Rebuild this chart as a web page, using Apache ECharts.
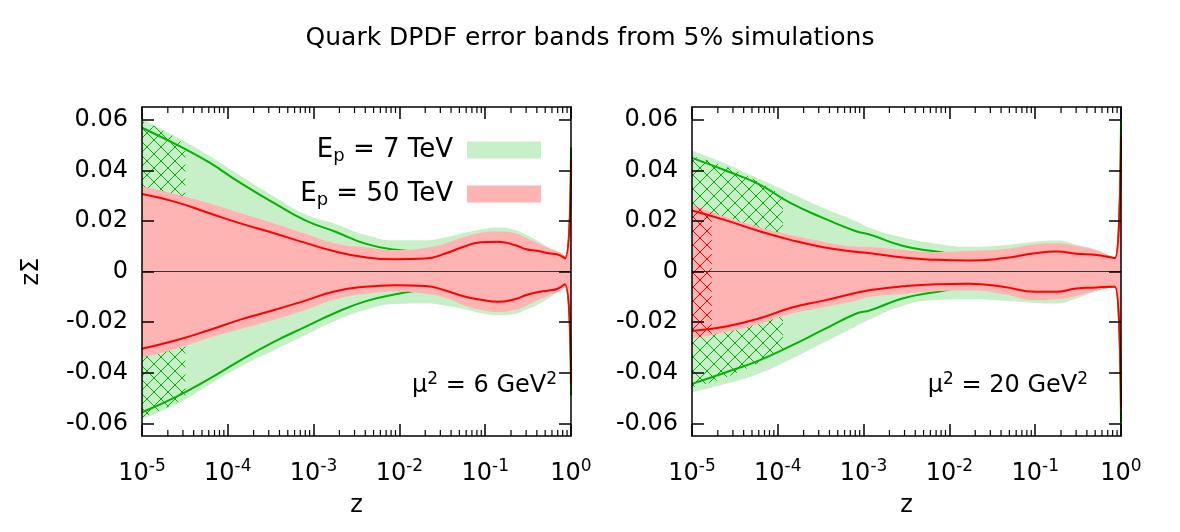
<!DOCTYPE html>
<html>
<head>
<meta charset="utf-8">
<script src="https://cdn.jsdelivr.net/npm/echarts@6/dist/echarts.min.js"></script>
<style>
html,body{margin:0;padding:0;background:#fff}
#chart{width:1180px;height:532px}
</style>
</head>
<body>
<div id="chart"></div>
<script>
// ---- panel 1: mu^2 = 6 GeV^2 ----
const zA = [1e-5, 2.5e-5, 6e-5, 1.4e-4, 3.4e-4, 8e-4, 1.8e-3, 4e-3, 9e-3, 2e-2, 3.5e-2, 5.6e-2, 9e-2, 0.14, 0.22, 0.3, 0.4, 0.55, 0.7, 0.85, 1.0];
const aGreenBandHi = [0.0604, 0.0532, 0.0458, 0.0378, 0.0298, 0.0226, 0.0188, 0.0145, 0.0123, 0.0123, 0.0135, 0.0152, 0.0166, 0.0174, 0.0165, 0.0145, 0.0122, 0.0095, 0.0079, 0.0062, 0.052];
const aGreenBandLo = [-0.0583, -0.0525, -0.0448, -0.0376, -0.0312, -0.0252, -0.0195, -0.0152, -0.0128, -0.0126, -0.0135, -0.0148, -0.0165, -0.0173, -0.0168, -0.015, -0.0133, -0.0105, -0.0082, -0.0062, -0.052];
const aGreenLineHi = [0.0568, 0.0502, 0.0432, 0.035, 0.0272, 0.0202, 0.0157, 0.011, 0.0086, 0.0078, 0.0092, 0.0117, 0.0135, 0.0138, 0.013, 0.011, 0.0098, 0.0082, 0.0073, 0.0055, 0.049];
const aGreenLineLo = [-0.0556, -0.0495, -0.0425, -0.0351, -0.0279, -0.0219, -0.0163, -0.0118, -0.009, -0.0075, -0.009, -0.0115, -0.0132, -0.014, -0.013, -0.0114, -0.0099, -0.0085, -0.0074, -0.0055, -0.049];
const aRedBandHi = [0.0337, 0.0305, 0.027, 0.0231, 0.0191, 0.015, 0.0111, 0.0096, 0.0085, 0.0093, 0.0112, 0.0136, 0.0153, 0.0158, 0.0152, 0.0132, 0.0114, 0.0092, 0.0079, 0.0058, 0.047];
const aRedBandLo = [-0.034, -0.0305, -0.0263, -0.0228, -0.0192, -0.0152, -0.011, -0.0089, -0.008, -0.0088, -0.0105, -0.0133, -0.0152, -0.016, -0.0152, -0.0135, -0.0116, -0.0095, -0.008, -0.006, -0.047];
const aRedLineHi = [0.0306, 0.0274, 0.0231, 0.019, 0.0152, 0.0113, 0.0079, 0.0056, 0.0048, 0.0051, 0.0072, 0.0098, 0.0116, 0.0118, 0.0105, 0.0088, 0.0082, 0.0072, 0.0067, 0.0052, 0.0442];
const aRedLineLo = [-0.0305, -0.0272, -0.0232, -0.019, -0.0153, -0.0115, -0.0078, -0.006, -0.0054, -0.0057, -0.0076, -0.0098, -0.0112, -0.012, -0.011, -0.0093, -0.0082, -0.0075, -0.0068, -0.005, -0.0443];
const zHatchA = [1e-5, 2e-5, 3.2e-5];
const aHatchHi = [0.0595, 0.0548, 0.0498];
const aHatchLo = [-0.0578, -0.0535, -0.0497];

// ---- panel 2: mu^2 = 20 GeV^2 ----
const zB = [1e-5, 2.5e-5, 6e-5, 1.4e-4, 3.4e-4, 8e-4, 1.2e-3, 2.9e-3, 7e-3, 1.7e-2, 4.2e-2, 0.1, 0.18, 0.3, 0.52, 0.74, 0.85, 1.0];
const bGreenBandHi = [0.0478, 0.0425, 0.0367, 0.031, 0.0251, 0.02, 0.0172, 0.0134, 0.011, 0.0098, 0.0104, 0.0118, 0.0122, 0.0106, 0.0086, 0.006, 0.0054, 0.0605];
const bGreenBandLo = [-0.0477, -0.0444, -0.0404, -0.0348, -0.0282, -0.0218, -0.0188, -0.0135, -0.0113, -0.011, -0.0116, -0.0124, -0.0126, -0.0107, -0.0076, -0.006, -0.0058, -0.0598];
const bGreenLineHi = [0.0449, 0.0398, 0.0345, 0.0271, 0.0211, 0.016, 0.0145, 0.0101, 0.0079, 0.0062, 0.007, 0.009, 0.0095, 0.0085, 0.0074, 0.0057, 0.0052, 0.06];
const bGreenLineLo = [-0.0444, -0.0398, -0.0352, -0.0295, -0.023, -0.0168, -0.0153, -0.0106, -0.0081, -0.0062, -0.0075, -0.0096, -0.0095, -0.0082, -0.0069, -0.006, -0.0058, -0.0596];
const bRedBandHi = [0.0264, 0.0215, 0.0176, 0.0145, 0.0118, 0.0099, 0.0097, 0.0085, 0.0077, 0.0082, 0.0088, 0.0108, 0.0112, 0.0101, 0.0083, 0.0059, 0.0053, 0.055];
const bRedBandLo = [-0.0265, -0.0239, -0.0207, -0.0168, -0.0142, -0.0116, -0.01, -0.0089, -0.0078, -0.0075, -0.0089, -0.0113, -0.011, -0.0097, -0.0075, -0.006, -0.0056, -0.055];
const bRedLineHi = [0.0241, 0.0202, 0.016, 0.0125, 0.0096, 0.0078, 0.0072, 0.0055, 0.0046, 0.0043, 0.0052, 0.0072, 0.0079, 0.007, 0.0065, 0.0056, 0.0052, 0.0535];
const bRedLineLo = [-0.0235, -0.0217, -0.0186, -0.0144, -0.0115, -0.0085, -0.0073, -0.0058, -0.005, -0.0048, -0.006, -0.008, -0.008, -0.0067, -0.0063, -0.006, -0.006, -0.0537];
const zHatchB = [1e-5, 3.4e-5, 1.15e-4];
const bHatchHi = [0.0456, 0.0395, 0.0298];
const bHatchLo = [-0.046, -0.04, -0.0305];
const zRedHatchB = [1e-5, 1.7e-5];
const bRedHatchHi = [0.0264, 0.0236];
const bRedHatchLo = [-0.0265, -0.025];

// axis ticks
const yTicks = [-0.06, -0.04, -0.02, 0, 0.02, 0.04, 0.06];
const minorMant = [2, 3, 4, 5, 6, 7, 8, 9];
const decades = [1e-5, 1e-4, 1e-3, 1e-2, 1e-1];

const FONT = 'DejaVu Sans';
const GREEN_BAND = '#c8f0c8', RED_BAND = '#ffb4b4';
const GREEN = '#00b400', RED = '#ff0000';
const YMIN = -0.065, YMAX = 0.065;

function hatchPattern(color) {
  const c = document.createElement('canvas');
  c.width = 14; c.height = 14;
  const g = c.getContext('2d');
  g.strokeStyle = color; g.lineWidth = 1;
  g.beginPath();
  g.moveTo(0, 0); g.lineTo(14, 14);
  g.moveTo(14, 0); g.lineTo(0, 14);
  g.stroke();
  return c;
}
const greenHatch = hatchPattern(GREEN);
const redHatch = hatchPattern(RED);

function pts(z, v) { return z.map((x, i) => [x, v[i]]); }

// layer: 2 = 7 TeV set, 3 = 50 TeV set (drawn on top)
function area(name, gi, z, v, color, layer) {
  return {
    name: name, type: 'line', xAxisIndex: gi * 2, yAxisIndex: gi * 2, z: layer,
    data: pts(z, v), showSymbol: false, smooth: 0.5,
    itemStyle: { color: typeof color === 'string' ? color : 'rgba(0,0,0,0)' },
    lineStyle: { width: 0 }, areaStyle: { color: color, opacity: 1 },
    silent: true, animation: false
  };
}
function curve(name, gi, z, v, color, layer) {
  return {
    name: name, type: 'line', xAxisIndex: gi * 2, yAxisIndex: gi * 2, z: layer,
    data: pts(z, v), showSymbol: false, smooth: 0.5,
    itemStyle: { color: color }, lineStyle: { width: 2, color: color },
    silent: true, animation: false
  };
}

const minorZ = [];
decades.forEach(d => minorMant.forEach(m => minorZ.push(d * m)));

function minorTicks(gi) {
  return {
    type: 'custom', xAxisIndex: gi * 2, yAxisIndex: gi * 2, z: 10, silent: true, clip: false,
    data: minorZ.map(z => [z, 0]),
    renderItem: function (params, api) {
      const b = api.coord([api.value(0), YMIN]);
      const t = api.coord([api.value(0), YMAX]);
      const st = { stroke: '#000', lineWidth: 1.2 };
      return { type: 'group', children: [
        { type: 'line', shape: { x1: b[0], y1: b[1], x2: b[0], y2: b[1] - 6 }, style: st },
        { type: 'line', shape: { x1: t[0], y1: t[1], x2: t[0], y2: t[1] + 6 }, style: st }
      ] };
    }
  };
}

const axLine = { show: true, onZero: false, lineStyle: { color: '#000', width: 1.5 } };
const tickStyle = { color: '#000', width: 1.5 };

function xAx(gi, top) {
  return {
    type: 'log', logBase: 10, gridIndex: gi, position: top ? 'top' : 'bottom',
    min: 1e-5, max: 1, splitNumber: 5, z: 10,
    axisLine: axLine,
    axisTick: { show: true, inside: true, length: 12, lineStyle: tickStyle },
    axisLabel: {
      show: !top, margin: 22, color: '#000',
      formatter: v => '{m|10}{e|' + Math.round(Math.log10(v)) + '}',
      rich: {
        m: { fontFamily: FONT, fontSize: 24, color: '#000' },
        e: { fontFamily: FONT, fontSize: 17, color: '#000', padding: [0, 0, 14, 0] }
      }
    },
    splitLine: { show: false },
    name: top ? '' : 'z', nameLocation: 'middle', nameGap: 58,
    nameTextStyle: { fontFamily: FONT, fontSize: 24, color: '#000' }
  };
}
function yAx(gi, right) {
  return {
    type: 'value', gridIndex: gi, position: right ? 'right' : 'left',
    min: YMIN, max: YMAX, z: 10,
    axisLine: axLine,
    axisTick: { show: true, inside: true, length: 12, customValues: yTicks, lineStyle: tickStyle },
    axisLabel: {
      show: !right, customValues: yTicks, margin: 14, color: '#000',
      fontFamily: FONT, fontSize: 24,
      formatter: v => (Math.abs(v) < 1e-9 ? '0' : v.toFixed(2))
    },
    splitLine: { show: false },
    name: (gi === 0 && !right) ? 'zΣ' : '', nameLocation: 'middle', nameGap: 98,
    nameTextStyle: { fontFamily: FONT, fontSize: 24, color: '#000' }
  };
}

const zeroLine = {
  silent: true, symbol: ['none', 'none'], label: { show: false },
  lineStyle: { color: '#333', width: 1, type: 'solid' },
  data: [{ yAxis: 0 }], animation: false
};

const HATCH_G = { image: greenHatch, repeat: 'repeat' };
const HATCH_R = { image: redHatch, repeat: 'repeat' };

const series = [
  // panel 1
  area('E7', 0, zA, aGreenBandHi, GREEN_BAND, 2),
  area('g7a', 0, zA, aGreenBandLo, GREEN_BAND, 2),
  area('h7a', 0, zHatchA, aHatchHi, HATCH_G, 2),
  area('h7b', 0, zHatchA, aHatchLo, HATCH_G, 2),
  curve('l7a', 0, zA, aGreenLineHi, GREEN, 2),
  curve('l7b', 0, zA, aGreenLineLo, GREEN, 2),
  area('E50', 0, zA, aRedBandHi, RED_BAND, 3),
  area('r50a', 0, zA, aRedBandLo, RED_BAND, 3),
  curve('l50a', 0, zA, aRedLineHi, RED, 4),
  curve('l50b', 0, zA, aRedLineLo, RED, 4),
  // panel 2
  area('B7a', 1, zB, bGreenBandHi, GREEN_BAND, 2),
  area('B7b', 1, zB, bGreenBandLo, GREEN_BAND, 2),
  area('Bh7a', 1, zHatchB, bHatchHi, HATCH_G, 2),
  area('Bh7b', 1, zHatchB, bHatchLo, HATCH_G, 2),
  curve('Bl7a', 1, zB, bGreenLineHi, GREEN, 2),
  curve('Bl7b', 1, zB, bGreenLineLo, GREEN, 2),
  area('B50a', 1, zB, bRedBandHi, RED_BAND, 3),
  area('B50b', 1, zB, bRedBandLo, RED_BAND, 3),
  area('Bh50a', 1, zRedHatchB, bRedHatchHi, HATCH_R, 3),
  area('Bh50b', 1, zRedHatchB, bRedHatchLo, HATCH_R, 3),
  curve('Bl50a', 1, zB, bRedLineHi, RED, 4),
  curve('Bl50b', 1, zB, bRedLineLo, RED, 4),
  minorTicks(0),
  minorTicks(1)
];
series[7].markLine = zeroLine;
series[17].markLine = zeroLine;

const richLegend = {
  t: { fontFamily: FONT, fontSize: 26, color: '#000' },
  p: { fontFamily: FONT, fontSize: 18, color: '#000', padding: [12, 0, 0, 0] },
  g: { width: 9 }
};

const chart = echarts.init(document.getElementById('chart'), null, { renderer: 'canvas' });
chart.setOption({
  animation: false,
  backgroundColor: '#fff',
  textStyle: { fontFamily: FONT },
  title: {
    text: 'Quark DPDF error bands from 5% simulations', left: 'center', top: 21,
    textStyle: { fontFamily: FONT, fontSize: 25, fontWeight: 'normal', color: '#000' }
  },
  legend: {
    data: [{ name: 'E7', icon: 'rect' }, { name: 'E50', icon: 'rect' }],
    orient: 'vertical', align: 'right', right: 639, top: 137, padding: 0,
    itemWidth: 74, itemHeight: 17, itemGap: 16, selectedMode: false,
    formatter: n => n === 'E7' ? '{t|E}{p|p}{t| = 7 TeV}{g| }' : '{t|E}{p|p}{t| = 50 TeV}{g| }',
    textStyle: { rich: richLegend }
  },
  graphic: [
    { type: 'text', z: 20, style: {
      x: 557, y: 386, align: 'right', verticalAlign: 'middle',
      text: '{t|μ}{s|2}{t| = 6 GeV}{s|2}',
      rich: { t: { fontFamily: FONT, fontSize: 24, fill: '#000' }, s: { fontFamily: FONT, fontSize: 17, fill: '#000', padding: [0, 0, 12, 0] } }
    } },
    { type: 'text', z: 20, style: {
      x: 1088, y: 386, align: 'right', verticalAlign: 'middle',
      text: '{t|μ}{s|2}{t| = 20 GeV}{s|2}',
      rich: { t: { fontFamily: FONT, fontSize: 24, fill: '#000' }, s: { fontFamily: FONT, fontSize: 17, fill: '#000', padding: [0, 0, 12, 0] } }
    } }
  ],
  grid: [
    { left: 142, top: 107, width: 429, height: 329, containLabel: false },
    { left: 692, top: 107, width: 429, height: 329, containLabel: false }
  ],
  xAxis: [xAx(0, false), xAx(0, true), xAx(1, false), xAx(1, true)],
  yAxis: [yAx(0, false), yAx(0, true), yAx(1, false), yAx(1, true)],
  series: series
});
</script>
</body>
</html>
